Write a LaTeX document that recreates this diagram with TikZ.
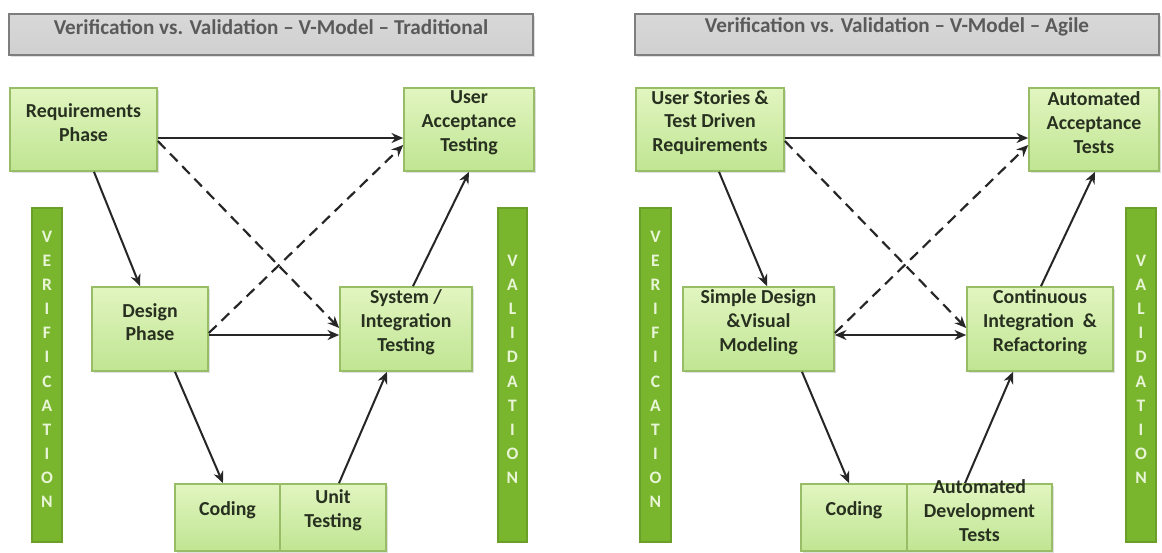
\documentclass[tikz,border=0pt]{standalone}
\usepackage{fontspec}
\setmainfont{Carlito}
\usetikzlibrary{arrows.meta,fit,shadows}
\definecolor{boxtop}{HTML}{E2F5C0}
\definecolor{boxbot}{HTML}{BFE592}
\definecolor{boxline}{HTML}{98BD66}
\definecolor{txt}{HTML}{283020}
\definecolor{barfill}{HTML}{7AB52E}
\definecolor{barline}{HTML}{6A9F28}
\definecolor{bartxt}{HTML}{E8F5D6}
\definecolor{ttop}{HTML}{D8D8D8}
\definecolor{tmid}{HTML}{F2F2F2}
\definecolor{tbot}{HTML}{D0D0D0}
\definecolor{tline}{HTML}{7E7E7E}
\definecolor{ttxt}{HTML}{5A5A5A}
\begin{document}
\begin{tikzpicture}[x=0.6pt,y=-0.6pt,
  stage/.style={draw=boxline, line width=1pt, top color=boxtop, bottom color=boxbot,
    inner sep=0pt, align=center, text=txt,
    font=\bfseries\fontsize{11.9}{14.3}\selectfont,
    drop shadow={shadow xshift=1pt,shadow yshift=-1pt,opacity=0.25}},
  titlebox/.style={draw=tline, line width=1.6pt, top color=ttop, middle color=tmid, bottom color=tbot,
    inner sep=0pt, text=ttxt, font=\bfseries\fontsize{12.7}{14}\selectfont,
    drop shadow={shadow xshift=1pt,shadow yshift=-1pt,opacity=0.25}},
  sidebar/.style={fill=barfill, draw=barline, line width=0.8pt, inner sep=0pt,
    align=center, text=bartxt, font=\bfseries\fontsize{10.5}{14.46}\selectfont},
  arr/.style={-{Stealth[length=7pt,width=6pt]}, line width=1.2pt, draw=black!85},
  darr/.style={{Stealth[length=7pt,width=6pt]}-{Stealth[length=7pt,width=6pt]}, line width=1.2pt, draw=black!85},
  dasharr/.style={arr, line width=1.3pt, dash pattern=on 6.5pt off 4pt}
]
\useasboundingbox[fill=white] (0,0) rectangle (1162,552);

% ---------- Left: Traditional ----------
\node[titlebox, fit={(9,14) (533,55)}] (t1) {Verification vs. Validation -- V-Model -- Traditional};
\node[sidebar, fit={(32,208) (62,542)}] (ver1) {V\\E\\R\\I\\F\\I\\C\\A\\T\\I\\O\\N};
\node[sidebar, fit={(498,208) (527,542)}] (val1) {V\\A\\L\\I\\D\\A\\T\\I\\O\\N};
\node[stage, fit={(10,88) (157,171)}] (req) {Requirements\\Phase};
\node[stage, fit={(404,88) (534,171)}] (uat) {User\\Acceptance\\Testing};
\node[stage, fit={(92,287) (208,371)}] (des) {Design\\Phase};
\node[stage, fit={(340,287) (472,371)}] (sys) {System /\\Integration\\Testing};
\node[stage, fit={(175,484) (280,551)}] (cod1) {Coding};
\node[stage, fit={(280,484) (386,551)}] (unit) {Unit\\Testing};

\draw[arr] (req.east |- 0,138) -- (uat.west |- 0,138);
\draw[arr] (req.south -| 94,0) -- (des.north -| 140,0);
\draw[dasharr] (req.east |- 0,141) -- (sys.west |- 0,328);
\draw[dasharr] (des.east |- 0,333) -- (uat.west |- 0,145);
\draw[arr] (des.east |- 0,335) -- (sys.west |- 0,335);
\draw[arr] (des.south -| 175,0) -- (cod1.north -| 223,0);
\draw[arr] (unit.north -| 339,0) -- (sys.south -| 387,0);
\draw[arr] (sys.north -| 413,0) -- (uat.south -| 469,0);

% ---------- Right: Agile ----------
\node[titlebox, fit={(635,14) (1159,55)}] (t2) {Verification vs. Validation -- V-Model -- Agile};
\node[sidebar, fit={(640,208) (671,542)}] (ver2) {V\\E\\R\\I\\F\\I\\C\\A\\T\\I\\O\\N};
\node[sidebar, fit={(1126,208) (1156,542)}] (val2) {V\\A\\L\\I\\D\\A\\T\\I\\O\\N};
\node[stage, fit={(636,88) (784,171)}] (us) {User Stories \&\\Test Driven\\Requirements};
\node[stage, fit={(1029,88) (1159,171)}] (aat) {Automated\\Acceptance\\Tests};
\node[stage, fit={(683,287) (834,371)}] (sd) {Simple Design\\\&Visual\\Modeling};
\node[stage, fit={(967,287) (1113,371)}] (ci) {Continuous\\Integration \ \&\\Refactoring};
\node[stage, fit={(801,484) (907,551)}] (cod2) {Coding};
\node[stage, fit={(907,484) (1052,551)}] (adt) {Automated\\Development\\Tests};

\draw[arr] (us.east |- 0,138) -- (aat.west |- 0,138);
\draw[arr] (us.south -| 719,0) -- (sd.north -| 767,0);
\draw[dasharr] (us.east |- 0,141) -- (ci.west |- 0,328);
\draw[dasharr] (sd.east |- 0,333) -- (aat.west |- 0,145);
\draw[darr] (sd.east |- 0,335) -- (ci.west |- 0,335);
\draw[arr] (sd.south -| 802,0) -- (cod2.north -| 849,0);
\draw[arr] (adt.north -| 965,0) -- (ci.south -| 1013,0);
\draw[arr] (ci.north -| 1041,0) -- (aat.south -| 1095,0);
\end{tikzpicture}
\end{document}
